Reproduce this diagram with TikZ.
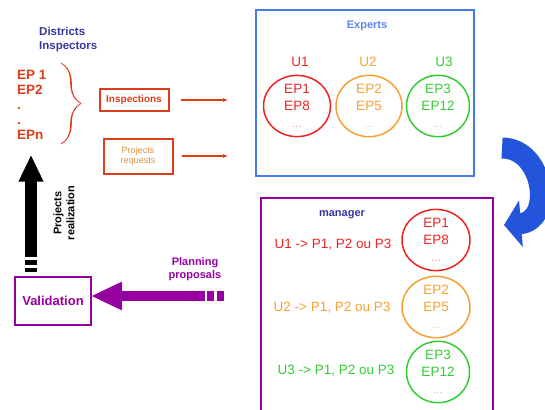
\documentclass[tikz,border=0pt]{standalone}
\usepackage{fontspec}
\setmainfont{Liberation Sans}
\usetikzlibrary{arrows.meta,calc,shapes.geometric,decorations.pathreplacing,calligraphy}
\definecolor{ured}{RGB}{238,34,34}
\definecolor{uorange}{RGB}{245,160,50}
\definecolor{ugreen}{RGB}{51,204,51}
\definecolor{lred}{RGB}{222,60,25}
\definecolor{lorange}{RGB}{232,140,60}
\definecolor{expblue}{RGB}{70,120,240}
\definecolor{exptext}{RGB}{90,135,240}
\definecolor{loopblue}{RGB}{35,85,220}
\definecolor{dblue}{RGB}{55,55,160}
\definecolor{purp}{RGB}{150,0,160}
\newcommand\pxfont[2]{\fontsize{#1}{#2}\selectfont}
\tikzset{>=latex}
\tikzstyle{bigbox}=[rectangle,line width=2pt,anchor=north west,inner sep=0pt]
\tikzstyle{group}=[ellipse,line width=1.5pt,inner sep=0pt,align=center,font=\pxfont{13.5}{17}]
\tikzstyle{redbox}=[rectangle,draw=lred,line width=2pt,align=center]
\tikzstyle{thinarrow}=[draw=lred,line width=1.2pt,-{Latex[length=5pt,width=4pt]}]

\begin{document}
\begin{tikzpicture}[x=1pt,y=-1pt,inner sep=0pt]
	\useasboundingbox (0,0) rectangle (545,409);

	\node[font=\bfseries\pxfont{11.5}{14},text=dblue,align=left,anchor=north west] (inspectors) at (39,27) {Districts\\Inspectors};
	\node[font=\bfseries\pxfont{13.5}{15},text=lred,align=left,anchor=north west] (eplist) at (17,70) {EP 1\\EP2\\.\\.\\EPn};
	\draw[lred, pen colour={lred}, line width=1.6pt, decoration={calligraphic brace,amplitude=20pt}, decorate] (61,63) -- (61,144);

	\node[redbox,minimum width=69pt,minimum height=22pt,text=lred,font=\bfseries\pxfont{10}{12}] (inspections) at (134,100) {Inspections};
	\node[redbox,minimum width=69pt,minimum height=35pt,text=lorange,font=\pxfont{9}{10.5}] (requests) at (138,156) {Projects\\requests};

	\node[bigbox,draw=expblue,minimum width=218pt,minimum height=166pt] (experts) at (255,9) {};
	\node[font=\bfseries\pxfont{11}{13},text=exptext] (expertslabel) at (367,26) {Experts};
	\draw[thinarrow, shorten <=11pt, shorten >=27pt] (inspections.east) -- (inspections.east -| experts.west);
	\draw[thinarrow, shorten <=8pt, shorten >=27pt] (requests.east) -- (requests.east -| experts.west);

	\foreach \i/\x/\w/\h/\ux/\col/\a/\b in {1/297/67/58/300/ured/EP1/EP8, 2/369/66/58/368/uorange/EP2/EP5, 3/438/63/56/444/ugreen/EP3/EP12} {
		\node[font=\pxfont{13.5}{15},text=\col] (u\i) at (\ux,62) {U\i};
		\node[group,draw=\col,text=\col,minimum width=\w pt,minimum height=\h pt] (e\i) at (\x,106) {\a\\\b\\{\color{\col!55}\pxfont{11}{17}...}};
	};

	\node[bigbox,draw=purp,minimum width=232pt,minimum height=240pt] (manager) at (260,197) {};
	\node[font=\bfseries\pxfont{11}{13},text=dblue] (managerlabel) at (342,215) {manager};

	\foreach \i/\y/\ex/\w/\h/\ry/\rx/\col/\a/\b in {1/240/436/68/60/245/333/ured/EP1/EP8, 2/307/436/68/57/308/332/uorange/EP2/EP5, 3/372/438/63/60/371/336/ugreen/EP3/EP12} {
		\node[group,draw=\col,text=\col,minimum width=\w pt,minimum height=\h pt] (m\i) at (\ex,\y) {\a\\\b\\{\color{\col!55}\pxfont{11}{17}...}};
		\node[font=\pxfont{13.5}{15},text=\col] (r\i) at (\rx,\ry) {U\i{} -> P1, P2 ou P3};
	};

	\coordinate (loopstart) at ($(experts.south east)+(27,-29)$);
	\coordinate (loopend) at ($(manager.north east)+(10,28)$);
	\draw[loopblue, line width=21pt, -{Triangle[width=46pt,length=17pt]}] (loopstart) .. controls +(42,0) and +(50,-4) .. (loopend);

	\node[rectangle,draw=purp,line width=1.5pt,minimum width=76pt,minimum height=48pt,text=purp,font=\bfseries\pxfont{13}{15}] (valid) at (53,301) {Validation};

	\coordinate (plantail) at (224,296);
	\draw[purp, line width=10pt, -{Triangle[width=26pt,length=31pt]}, dash pattern=on 7pt off 3pt on 7pt off 2pt on 300pt, shorten >=-1pt] (plantail) -- (plantail -| valid.east);
	\node[font=\bfseries\pxfont{11}{13.5},text=purp,align=center] (planning) at (195,269) {Planning\\proposals};

	\coordinate (realtail) at (31,272);
	\draw[black, line width=12pt, -{Triangle[width=23pt,length=27pt]}, dash pattern=on 4pt off 3pt on 5pt off 3pt on 300pt, shorten >=15pt] (realtail) -- (realtail |- eplist.south);
	\node[font=\bfseries\pxfont{11}{13},align=center,rotate=90] (realization) at (64,213) {Projects\\realization};

\end{tikzpicture}
\end{document}
